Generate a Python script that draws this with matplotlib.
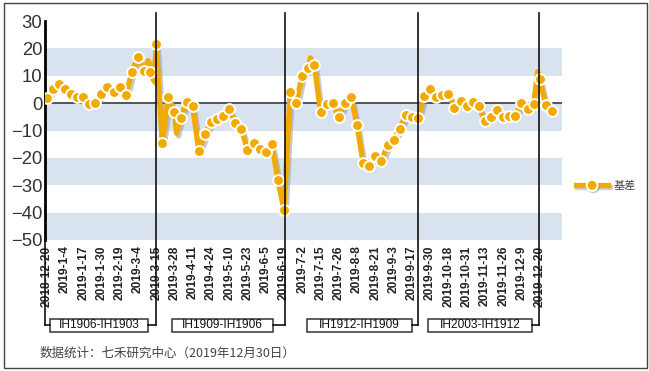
import numpy as np
import matplotlib
matplotlib.use("Agg")
import matplotlib.pyplot as plt
import matplotlib.patheffects as pe
from matplotlib.lines import Line2D
from matplotlib.patches import Rectangle

plt.rcParams['font.family'] = ['Liberation Sans', 'Noto Sans CJK SC', 'DejaVu Sans']

# 基差 sampled every 3 trading days starting 2018-12-20
basis = [1.7, 5.1, 7.0, 5.1, 3.3, 2.1, 2.1, -0.5, 0.2, 3.3,
         6.0, 4.1, 6.0, 2.9, 11.2, 17.0, 11.8, 11.2, 21.6, -14.7,
         2.3, -3.2, -5.6, 0.5, -1.2, -17.5, -11.4, -6.8, -5.9, -4.6,
         -2.0, -7.1, -9.3, -17.2, -14.7, -16.8, -17.7, -15.0, -28.2, -39.1,
         3.9, 0.2, 10.0, 12.7, 13.9, -3.4, -0.4, 0.0, -4.9, 0.0,
         2.4, -8.1, -22.0, -23.0, -19.3, -21.1, -15.4, -13.4, -9.3, -4.4,
         -5.2, -5.6, 2.7, 5.1, 2.4, 3.1, 3.5, -1.8, 0.9, -1.0,
         0.5, -1.2, -6.7, -5.2, -2.4, -5.2, -4.6, -4.6, 0.2, -2.2,
         -0.4, 8.8, -0.7, -2.7]
step = 3

# a few intraday spikes on the line between markers
spike_days = [50, 53, 64, 130, 242]
spike_vals = [15.5, 8.0, -11.0, 16.5, 11.5]

tick_labels = ['2018-12-20', '2019-1-4', '2019-1-17', '2019-1-30', '2019-2-19',
               '2019-3-4', '2019-3-15', '2019-3-28', '2019-4-11', '2019-4-24',
               '2019-5-10', '2019-5-23', '2019-6-5', '2019-6-19', '2019-7-2',
               '2019-7-15', '2019-7-26', '2019-8-8', '2019-8-21', '2019-9-3',
               '2019-9-17', '2019-9-30', '2019-10-18', '2019-10-31', '2019-11-13',
               '2019-11-26', '2019-12-9', '2019-12-20']
tick_step = 9

contracts = ['IH1906-IH1903', 'IH1909-IH1906', 'IH1912-IH1909', 'IH2003-IH1912']
roll_days = [54, 117.5, 183, 242.5]

orange = '#F2A900'
band = '#D9E3EF'
W, H = 649, 371

fig = plt.figure(figsize=(W / 100, H / 100), dpi=100)
ax = fig.add_axes([45 / W, 1 - 240 / H, (562 - 45) / W, (240 - 21) / H])


def fx(x):
    return x / W


def fy(y):
    return 1 - y / H


mk_days = np.arange(len(basis)) * step
line_days = np.concatenate([mk_days, spike_days])
line_vals = np.concatenate([basis, spike_vals])
order = np.argsort(line_days)

ax.set_xlim(-0.8, 254)
ax.set_ylim(-50, 30)

for lo in [10, -10, -30, -50]:
    ax.axhspan(lo, lo + 10, color=band, lw=0, zorder=0)
ax.axhline(0, color='#555555', lw=1.4, zorder=1)

shadow = [pe.SimpleLineShadow(offset=(1.5, -2), shadow_color='#888888', alpha=0.45),
          pe.Normal()]
ax.plot(line_days[order], line_vals[order], color=orange, lw=3.8,
        solid_joinstyle='round', zorder=3, path_effects=shadow)
ax.plot(mk_days, basis, ls='none', marker='o', ms=7.8, mfc=orange,
        mec='white', mew=1.4, zorder=4)

ax.set_xticks(np.arange(len(tick_labels)) * tick_step)
ax.set_xticklabels(tick_labels, rotation=90, fontsize=8.6, fontweight='bold',
                   color='#222222', va='top', ha='center')
ax.set_yticks(range(-50, 31, 10))
ax.tick_params(axis='both', length=0)
ax.tick_params(axis='y', labelsize=13.3, labelcolor='#333333', pad=2)
ax.tick_params(axis='x', pad=4)
for s in ['top', 'right', 'bottom']:
    ax.spines[s].set_visible(False)
ax.spines['left'].set_linewidth(2)
ax.spines['left'].set_color('black')

# roll dividers and contract brackets, in pixel positions
xpix = [ax.transData.transform((d, 0))[0] for d in roll_days]
boxes = [(50, 148), (172, 273), (307, 412), (428, 532)]
for xp, (b0, b1), name in zip(xpix, boxes, contracts):
    fig.add_artist(Line2D([fx(xp), fx(xp)], [fy(13), fy(325)], color='#111111', lw=1.2))
    fig.add_artist(Line2D([fx(b1), fx(xp)], [fy(325), fy(325)], color='#111111', lw=1.2))
    fig.add_artist(Rectangle((fx(b0), fy(332)), fx(b1 - b0), (332 - 319) / H,
                             fill=False, ec='#333333', lw=1.1))
    fig.text(fx((b0 + b1) / 2), fy(325.5), name, fontsize=8.6, color='#111111',
             ha='center', va='center')
fig.add_artist(Line2D([fx(44.5), fx(44.5)], [fy(240), fy(325)], color='#111111', lw=1.2))
fig.add_artist(Line2D([fx(44.5), fx(50)], [fy(325), fy(325)], color='#111111', lw=1.2))

fig.text(fx(40), fy(353), '数据统计：七禾研究中心（2019年12月30日）', fontsize=9,
         color='#444444', ha='left', va='center',
         family=['Noto Sans CJK SC', 'DejaVu Sans'])

# legend
leg_shadow = [pe.SimpleLineShadow(offset=(1, -1.2), shadow_color='#888888', alpha=0.4),
              pe.Normal()]
proxy = Line2D([], [], color=orange, lw=3.8, marker='o', ms=7.8, mfc=orange,
               mec='white', mew=1.4, path_effects=leg_shadow)
fig.legend([proxy], ['基差'], loc='center left', bbox_to_anchor=(fx(566), fy(186)),
           frameon=False, handlelength=2.9, numpoints=1, handletextpad=0.5,
           prop={'family': ['Noto Sans CJK SC', 'DejaVu Sans'], 'size': 8},
           labelcolor='#444444')

fig.add_artist(Rectangle((fx(3.5), fy(367.5)), fx(646.5 - 3.5), (367.5 - 3) / H,
                         fill=False, ec='#444444', lw=1.0))

fig.savefig('out.png', dpi=100)
